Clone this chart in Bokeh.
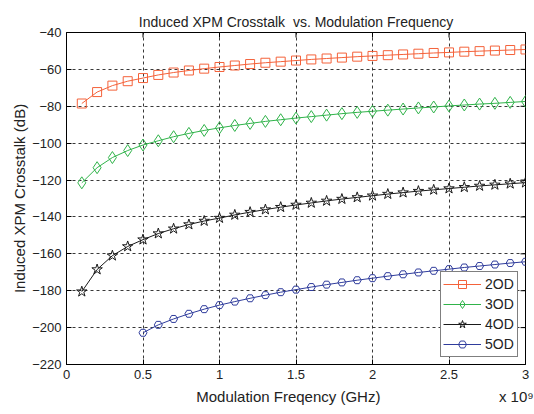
import math
from bokeh.plotting import figure
from bokeh.models import (Range1d, LinearAxis, FixedTicker, Legend, LegendItem)
from bokeh.embed import file_html
from bokeh.resources import INLINE

# ---------------- data ----------------
freq = [0.1, 0.2, 0.3, 0.4, 0.5, 0.6, 0.7, 0.8, 0.9, 1.0,
        1.1, 1.2, 1.3, 1.4, 1.5, 1.6, 1.7, 1.8, 1.9, 2.0,
        2.1, 2.2, 2.3, 2.4, 2.5, 2.6, 2.7, 2.8, 2.9, 3.0]
od2 = [-78.5, -72.3, -68.8, -66.4, -64.7, -63.0, -61.7, -60.6, -59.6, -58.7,
       -57.9, -57.1, -56.4, -55.8, -55.2, -54.6, -54.1, -53.6, -53.1, -52.7,
       -52.3, -51.9, -51.5, -51.1, -50.8, -50.4, -50.1, -49.8, -49.5, -49.2]
od3 = [-121.5, -113.3, -107.8, -104.0, -101.0, -98.7, -96.5, -94.7, -93.1, -91.7,
       -90.4, -89.3, -88.2, -87.3, -86.4, -85.6, -84.8, -84.0, -83.3, -82.7,
       -82.1, -81.5, -80.9, -80.4, -79.8, -79.3, -78.8, -78.4, -77.9, -77.4]
od4 = [-180.5, -168.5, -161.0, -156.0, -152.3, -149.0, -146.4, -144.1, -142.2, -140.6,
       -138.9, -137.4, -136.0, -134.7, -133.5, -132.4, -131.3, -130.3, -129.4, -128.5,
       -127.6, -126.8, -126.0, -125.3, -124.6, -123.9, -123.2, -122.6, -122.0, -121.4]
freq5 = [0.5, 0.6, 0.7, 0.8, 0.9, 1.0,
         1.1, 1.2, 1.3, 1.4, 1.5, 1.6, 1.7, 1.8, 1.9, 2.0,
         2.1, 2.2, 2.3, 2.4, 2.5, 2.6, 2.7, 2.8, 2.9, 3.0]
od5 = [-202.8, -198.5, -195.3, -192.5, -190.0, -187.8,
       -185.9, -184.1, -182.4, -180.8, -179.4, -178.0, -176.7, -175.5, -174.3, -173.2,
       -172.1, -171.1, -170.1, -169.2, -168.3, -167.4, -166.6, -165.8, -165.0, -164.3]

series_names = ["2OD", "3OD", "4OD", "5OD"]
x_min, x_max = 0, 3
y_min, y_max = -220, -40
x_ticks = [0, 0.5, 1, 1.5, 2, 2.5, 3]
x_tick_labels = ["0", "0.5", "1", "1.5", "2", "2.5", "3"]
y_ticks = [-220, -200, -180, -160, -140, -120, -100, -80, -60, -40]
x_title = "Modulation Freqency (GHz)"
x_scale_note = "x 10\u2079"
y_title = "Induced XPM Crosstalk (dB)"
main_title = "Induced XPM Crosstalk\u00a0 vs. Modulation Frequency"

# ---------------- styling ----------------
FONT = "Liberation Sans"
TXT = "#222222"

p = figure(width=534, height=414, output_backend="svg", toolbar_location=None,
           x_range=Range1d(x_min, x_max), y_range=Range1d(y_min, y_max),
           min_border_left=66, min_border_right=9, min_border_top=32,
           min_border_bottom=50, title=main_title)
p.title.align = "center"
p.title.text_font = FONT
p.title.text_font_size = "14px"
p.title.text_font_style = "normal"
p.title.text_color = TXT
p.title.standoff = 5

p.background_fill_color = "white"
p.border_fill_color = "white"
p.outline_line_color = "black"
p.outline_line_width = 1
p.outline_line_alpha = 1

xa = p.xaxis[0]
ya = p.yaxis[0]
xa.ticker = FixedTicker(ticks=x_ticks)
ya.ticker = FixedTicker(ticks=y_ticks)
for ax in (xa, ya):
    ax.major_tick_in = 5
    ax.major_tick_out = 0
    ax.minor_tick_in = 0
    ax.minor_tick_out = 0
    ax.axis_line_color = "black"
    ax.major_tick_line_color = "black"
    ax.major_label_text_font = FONT
    ax.major_label_text_color = TXT
    ax.major_label_text_font_size = "13px"
    ax.axis_label_text_font = FONT
    ax.axis_label_text_font_size = "15px"
    ax.axis_label_text_font_style = "normal"
    ax.axis_label_text_color = TXT
xa.major_label_overrides = {t: l for t, l in zip(x_ticks, x_tick_labels)}
xa.major_label_standoff = 5
ya.axis_label = y_title
ya.major_label_standoff = 5
ya.axis_label_standoff = 1

# second row under the x axis: axis title and the "x 10^9" scale note
xb = LinearAxis(ticker=FixedTicker(ticks=[1.45, 2.94]),
                major_label_overrides={1.45: x_title, 2.94: x_scale_note},
                axis_line_color=None, major_tick_line_color=None,
                major_tick_in=0, major_tick_out=0, minor_tick_in=0, minor_tick_out=0,
                major_label_standoff=6, major_label_text_font=FONT,
                major_label_text_font_size="15px", major_label_text_color=TXT)
p.add_layout(xb, "below")

# inward ticks on the top and right edges (box style)
p.ray(x=x_ticks, y=[y_max] * len(x_ticks), length=5, length_units="screen",
      angle=-math.pi / 2, line_color="black", line_width=1)
p.ray(x=[x_max] * len(y_ticks), y=y_ticks, length=5, length_units="screen",
      angle=math.pi, line_color="black", line_width=1)

for g, ticks in ((p.xgrid[0], x_ticks), (p.ygrid[0], y_ticks)):
    g.ticker = FixedTicker(ticks=ticks)
    g.grid_line_color = "#222222"
    g.grid_line_dash = "3 3"
    g.grid_line_width = 1
    g.grid_line_alpha = 0.9

colors = ["#F4623A", "#30B34A", "#1A1A1A", "#2F3C9C"]
markers = ["square", "diamond", "star", "hex"]
sizes = [9, 12, 11, 8]
xs = [freq, freq, freq, freq5]
ys = [od2, od3, od4, od5]

items = []
for name, c, m, s, x, y in zip(series_names, colors, markers, sizes, xs, ys):
    ln = p.line(x, y, line_color=c, line_width=1)
    sc = p.scatter(x, y, marker=m, size=s, line_color=c, fill_color=None, line_width=1)
    items.append(LegendItem(label=name, renderers=[ln, sc]))

legend = Legend(items=items, location="bottom_right", margin=7,
                padding=2, spacing=0, glyph_width=38, glyph_height=20,
                label_height=20, label_width=30, label_standoff=4,
                label_text_font=FONT, label_text_font_size="14px",
                label_text_color=TXT, border_line_color="black",
                border_line_width=1, background_fill_color="white",
                background_fill_alpha=1)
p.add_layout(legend, "center")

open("out.html", "w").write(file_html(p, INLINE))
